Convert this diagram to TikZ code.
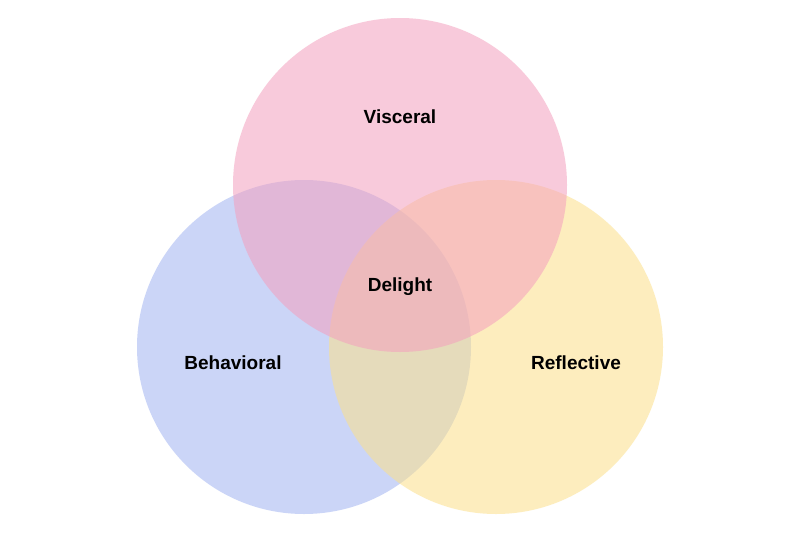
\documentclass[tikz,border=0pt]{standalone}
\usepackage{fontspec}
\setmainfont{Liberation Sans}
\definecolor{visc}{HTML}{F4A0BE}
\definecolor{behav}{HTML}{A2B4F2}
\definecolor{refl}{HTML}{FCE08A}
\begin{document}
\begin{tikzpicture}[
    x=1pt, y=-1pt,
    circ/.style={fill opacity=0.55, draw=none},
    label/.style={font=\fontsize{19}{23}\selectfont\bfseries, text=black},
    ]
    \useasboundingbox[fill=white] (0,0) rectangle (800,533);
    \fill[circ, behav] (304,347) circle[radius=167];
    \fill[circ, refl] (496,347) circle[radius=167];
    \fill[circ, visc] (400,185) circle[radius=167];
    \node[label] (visceral) at (400,117) {Visceral};
    \node[label] (delight) at (400,287) {Delight};
    \node[label] (behavioral) at (233,363) {Behavioral};
    \node[label] (reflective) at (576,363) {Reflective};
\end{tikzpicture}
\end{document}
